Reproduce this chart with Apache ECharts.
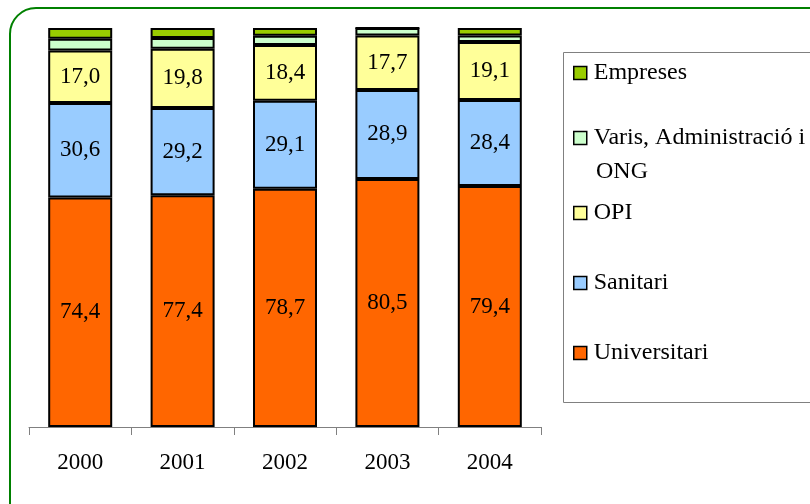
<!DOCTYPE html>
<html>
<head>
<meta charset="utf-8">
<script src="https://cdn.jsdelivr.net/npm/echarts@6/dist/echarts.min.js"></script>
<style>
html,body{margin:0;padding:0;background:#fff;}
#c{width:810px;height:504px;}
</style>
</head>
<body>
<div id="c"></div>
<script>
var years = ['2000', '2001', '2002', '2003', '2004'];
var universitari = [74.4, 77.4, 78.7, 80.5, 79.4];
var sanitari = [30.6, 29.2, 29.1, 28.9, 28.4];
var opi = [17.0, 19.8, 18.4, 17.7, 19.1];
var varis = [3.8, 3.6, 3.0, 2.4, 2.1];
var empreses = [3.5, 3.3, 2.6, 0.0, 2.5];

var seriesNames = ['Universitari', 'Sanitari', 'OPI', 'Varis, Administració i ONG', 'Empreses'];
var seriesValues = [universitari, sanitari, opi, varis, empreses];
var seriesColors = ['#FF6600', '#99CCFF', '#FFFF99', '#CCFFCC', '#99CC00'];
var showLabel = [true, true, true, false, false];

var totals = years.map(function (y, i) {
  var s = 0;
  seriesValues.forEach(function (arr) { s += arr[i]; });
  return s;
});

var FONT = 'Liberation Serif';

var series = seriesNames.map(function (name, k) {
  return {
    name: name,
    type: 'bar',
    stack: 'total',
    barWidth: 64,
    data: seriesValues[k].map(function (v, i) {
      return { value: v / totals[i] * 100, raw: v };
    }),
    itemStyle: { color: seriesColors[k], borderColor: '#000', borderWidth: 2 },
    label: {
      show: showLabel[k],
      position: 'inside',
      fontFamily: FONT,
      fontSize: 23,
      color: '#000',
      formatter: function (p) { return p.data.raw.toFixed(1).replace('.', ','); }
    },
    emphasis: { disabled: true }
  };
});

var legendOrder = [
  { name: 'Empreses', cy: 73, text: 'Empreses' },
  { name: 'Varis, Administració i ONG', cy: 138, text: 'Varis, Administració i' },
  { name: 'OPI', cy: 213, text: 'OPI' },
  { name: 'Sanitari', cy: 283, text: 'Sanitari' },
  { name: 'Universitari', cy: 353, text: 'Universitari' }
];

var legends = legendOrder.map(function (it) {
  return {
    data: [it.name],
    left: 573,
    top: it.cy - 13,
    padding: 0,
    itemWidth: 13,
    itemHeight: 13,
    itemGap: 0,
    selectedMode: false,
    icon: 'rect',
    itemStyle: { borderColor: '#000', borderWidth: 1.5 },
    formatter: function () { return it.text; },
    textStyle: { fontFamily: FONT, fontSize: 24, lineHeight: 26, color: '#000', padding: [0, 0, 0, 2] }
  };
});

var chart = echarts.init(document.getElementById('c'));
chart.setOption({
  animation: false,
  backgroundColor: '#fff',
  grid: { left: 29, right: 269, top: 28, bottom: 77, containLabel: false },
  legend: legends,
  xAxis: {
    type: 'category',
    data: years,
    axisLine: { lineStyle: { color: '#808080', width: 1 } },
    axisTick: { show: true, length: 8, lineStyle: { color: '#808080' } },
    axisLabel: { fontFamily: FONT, fontSize: 23, color: '#000', margin: 24 }
  },
  yAxis: {
    type: 'value',
    min: 0,
    max: 100,
    show: false
  },
  graphic: [
    {
      type: 'rect',
      z: -10,
      shape: { x: 10, y: 8, width: 830, height: 530, r: 26 },
      style: { fill: 'none', stroke: '#008000', lineWidth: 2 }
    },
    {
      type: 'rect',
      z: -5,
      shape: { x: 563.5, y: 52.5, width: 300, height: 350 },
      style: { fill: '#fff', stroke: '#808080', lineWidth: 1 }
    },
    {
      type: 'text',
      left: 596,
      top: 160,
      style: { text: 'ONG', fontFamily: FONT, fontSize: 24, fill: '#000' }
    }
  ],
  series: series
});
</script>
</body>
</html>
